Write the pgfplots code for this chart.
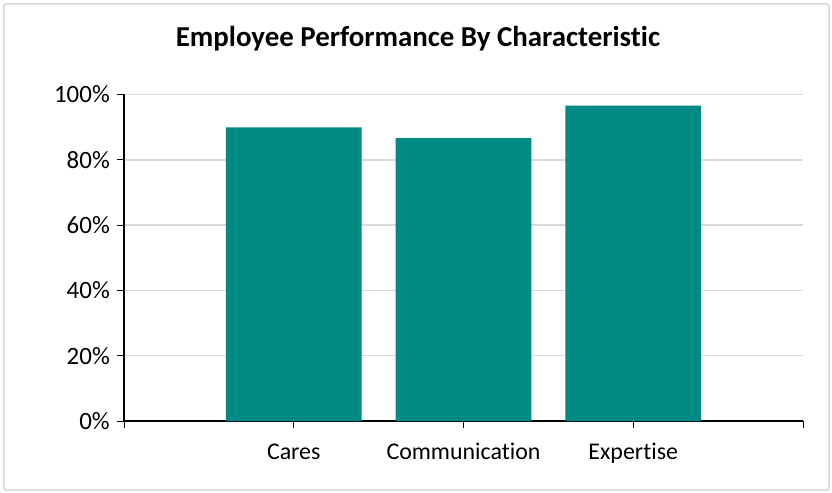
\documentclass[border=0pt]{standalone}
\usepackage{fontspec}
\setmainfont[Ligatures=NoCommon]{Carlito}
\usepackage{pgfplots}
\pgfplotsset{compat=1.18}
\definecolor{barteal}{RGB}{0,138,134}
\definecolor{gridgray}{RGB}{217,217,217}
\definecolor{framegray}{RGB}{215,215,215}
\begin{document}
\begin{tikzpicture}
\useasboundingbox (-124bp,-72bp) rectangle (708bp,421bp);
\begin{axis}[
  scale only axis,
  width=679bp, height=326.5bp,
  at={(0,0)}, anchor=south west,
  xmin=0, xmax=4, ymin=0, ymax=100,
  axis lines*=left,
  axis line style={black, line width=1.3bp},
  xtick={0,1,2,3,4},
  xticklabels={,Cares,Communication,Expertise,},
  ytick={0,20,40,60,80,100},
  yticklabels={0\%,20\%,40\%,60\%,80\%,100\%},
  tick align=outside,
  major tick length=7bp,
  tick style={black, line width=0.8bp},
  ymajorgrids,
  grid style={gridgray, line width=1.5bp},
  yticklabel style={font=\fontsize{25}{29}\selectfont, inner sep=7bp},
  xticklabel style={font=\fontsize{24}{28}\selectfont, anchor=base, yshift=-31bp},
  clip=false,
]
\addplot[ybar, bar width=0.8, fill=barteal, draw=none] coordinates {
  (1,89.9) (2,86.6) (3,96.6)
};
\end{axis}
\draw[framegray, line width=1.5bp, rounded corners=2bp] (-120bp,-69bp) rectangle (705bp,417bp);
\node[anchor=base, font=\fontsize{29}{34}\selectfont\bfseries] at (294bp,374bp) {Employee Performance By Characteristic};
\end{tikzpicture}
\end{document}
